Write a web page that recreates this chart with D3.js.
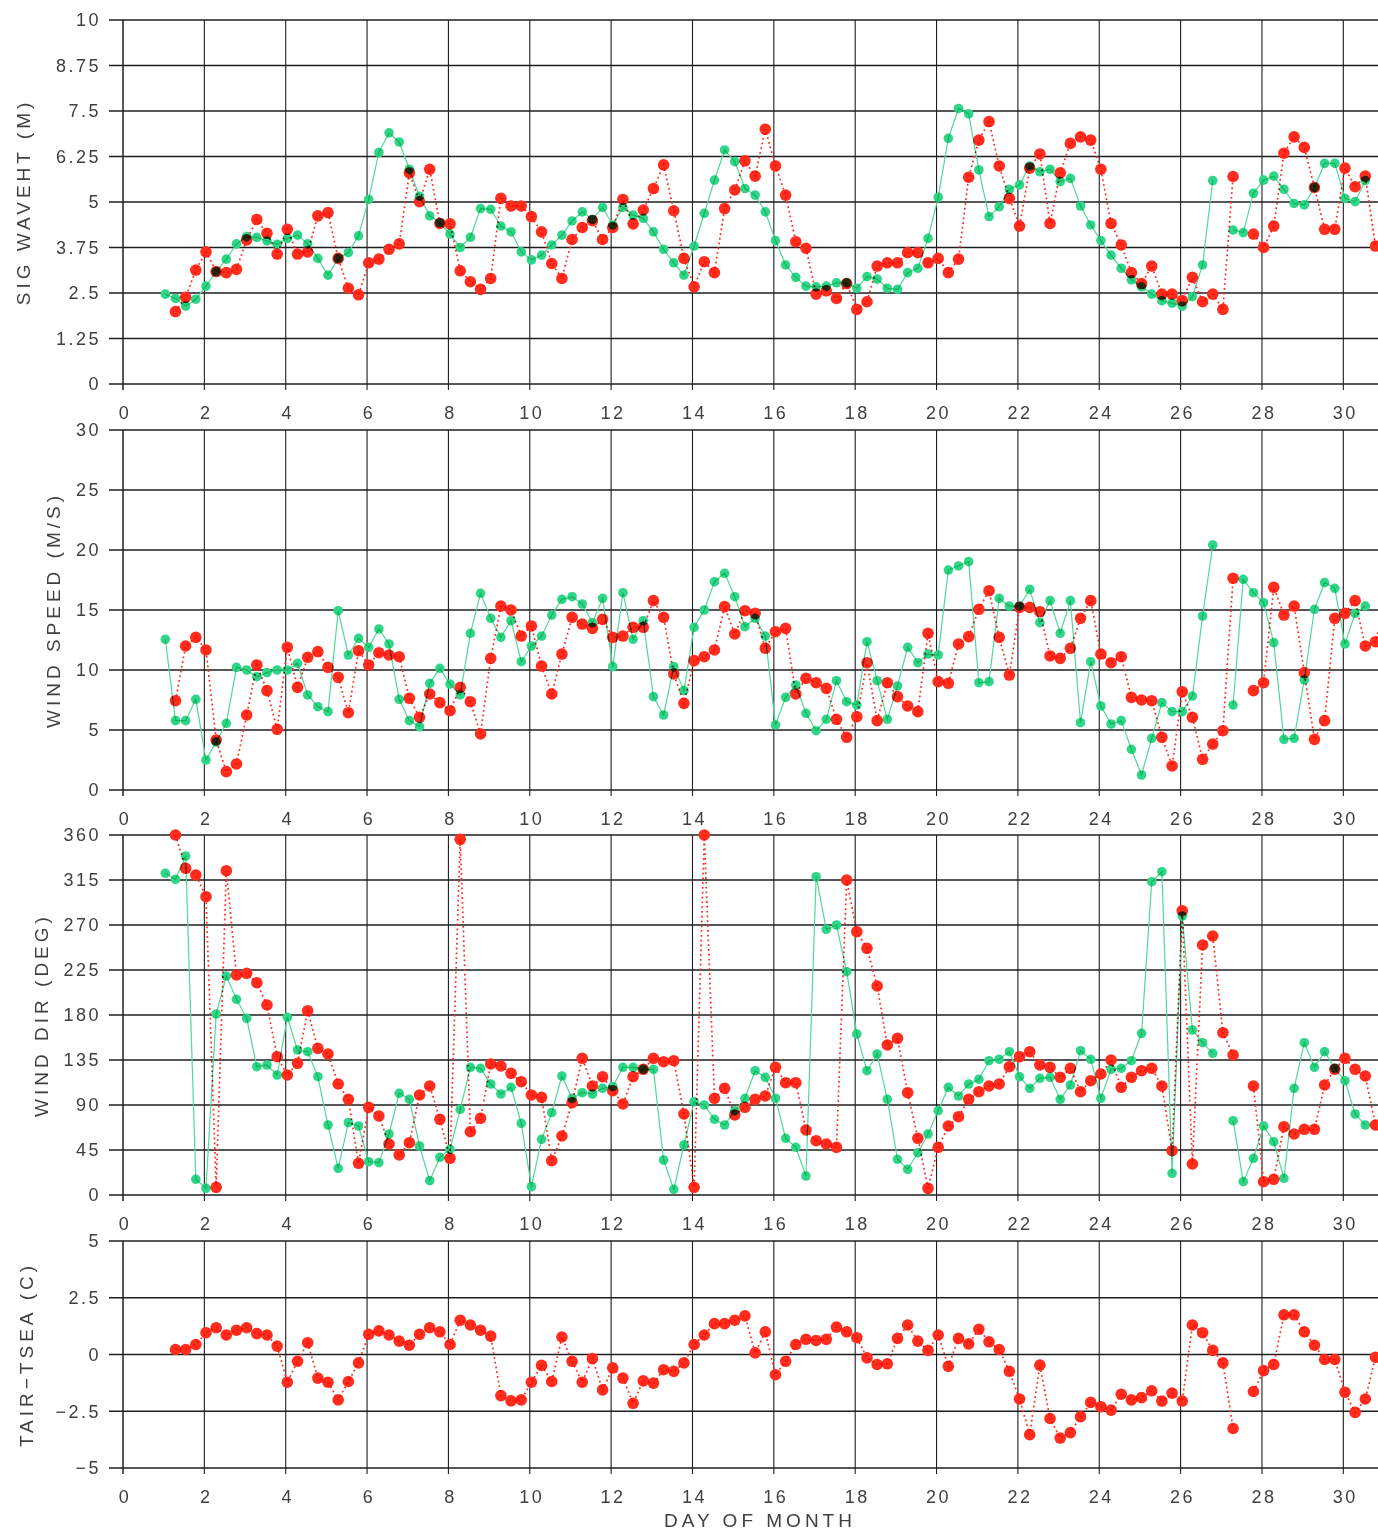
<html>
  <head>
    <title>buoy-month</title>
    <script src="https://cdn.jsdelivr.net/npm/d3@7"></script>
    <style>
      body { margin: 0; background: #ffffff; }
      text { font-family: "Liberation Sans", "DejaVu Sans", sans-serif; fill: #404040; }
    </style>
  </head>
  <body>
    <svg width="1378" height="1531" id="mainsvg" style="background-color: #ffffff;"></svg>
    <script>
        // observations every 6 hours starting at day 1; null = missing
        const T0 = 1.04;
        const STEP = 0.25;

        const waveGreen = [2.47, 2.35, 2.14, 2.33, 2.69, 3.09, 3.43, 3.85, 4.05, 4.03, 3.93, 3.84, 4.0, 4.09, 3.85, 3.45, 2.99, 3.45, 3.61, 4.07,
            5.07, 6.36, 6.9, 6.65, 5.9, 5.16, 4.62, 4.43, 4.12, 3.75, 4.03, 4.82, 4.8, 4.34, 4.18, 3.63, 3.41, 3.54, 3.82, 4.09,
            4.48, 4.73, 4.52, 4.85, 4.37, 4.85, 4.64, 4.55, 4.18, 3.7, 3.33, 2.99, 3.79, 4.69, 5.6, 6.43, 6.11, 5.37, 5.19, 4.73,
            3.94, 3.27, 2.93, 2.69, 2.67, 2.69, 2.78, 2.78, 2.63, 2.95, 2.88, 2.63, 2.6, 3.06, 3.18, 4.0, 5.13, 6.75, 7.57, 7.42,
            5.88, 4.6, 4.87, 5.35, 5.47, 5.99, 5.83, 5.9, 5.56, 5.65, 4.89, 4.37, 3.94, 3.54, 3.18, 2.86, 2.67, 2.47, 2.29, 2.22,
            2.14, 2.4, 3.27, 5.59, null, 4.23, 4.16, 5.24, 5.6, 5.71, 5.35, 4.96, 4.92, 5.4, 6.06, 6.06, 5.1, 5.01, 5.59];
        const waveRed = [null, 1.99, 2.38, 3.13, 3.63, 3.09, 3.06, 3.15, 3.96, 4.52, 4.14, 3.57, 4.25, 3.57, 3.63, 4.62, 4.71, 3.45, 2.63, 2.45,
            3.33, 3.43, 3.7, 3.85, 5.8, 5.01, 5.9, 4.41, 4.4, 3.11, 2.81, 2.6, 2.9, 5.1, 4.89, 4.89, 4.6, 4.18, 3.31, 2.9,
            3.97, 4.3, 4.49, 3.97, 4.3, 5.07, 4.4, 4.78, 5.37, 6.02, 4.76, 3.45, 2.67, 3.36, 3.06, 4.82, 5.33, 6.13, 5.71, 7.0,
            5.99, 5.19, 3.91, 3.73, 2.47, 2.56, 2.35, 2.76, 2.05, 2.26, 3.24, 3.33, 3.33, 3.61, 3.61, 3.33, 3.45, 3.06, 3.43, 5.68,
            6.7, 7.21, 5.99, 5.1, 4.34, 5.93, 6.32, 4.41, 5.8, 6.61, 6.79, 6.7, 5.9, 4.41, 3.82, 3.06, 2.76, 3.24, 2.47, 2.47,
            2.29, 2.93, 2.26, 2.47, 2.05, 5.7, null, 4.12, 3.75, 4.34, 6.34, 6.79, 6.5, 5.4, 4.25, 4.25, 5.93, 5.42, 5.71, 3.79];

        const speedGreen = [12.56, 5.78, 5.78, 7.56, 2.5, 4.0, 5.56, 10.22, 10.0, 9.44, 9.78, 10.0, 10.0, 10.56, 7.92, 6.94, 6.53, 14.94, 11.25, 12.64,
            11.89, 13.42, 12.17, 7.56, 5.78, 5.28, 8.89, 10.14, 8.83, 7.92, 13.06, 16.39, 14.31, 12.72, 14.11, 10.69, 12.0, 12.83, 14.58, 15.89,
            16.11, 15.5, 13.94, 15.97, 10.28, 16.44, 12.56, 14.11, 7.78, 6.25, 10.28, 8.28, 13.56, 15.0, 17.36, 18.06, 16.11, 13.61, 14.31, 12.83,
            5.42, 7.72, 8.75, 6.39, 4.94, 5.89, 9.11, 7.36, 7.08, 12.36, 9.11, 5.89, 8.67, 11.89, 10.61, 11.33, 11.25, 18.33, 18.67, 19.03,
            8.94, 9.03, 15.97, 15.33, 15.33, 16.72, 13.94, 15.78, 13.06, 15.78, 5.61, 10.69, 7.0, 5.5, 5.78, 3.39, 1.25, 4.31, 7.28, 6.53,
            6.53, 7.83, 14.5, 20.42, null, 7.08, 17.56, 16.44, 15.61, 12.28, 4.22, 4.31, 9.17, 15.06, 17.28, 16.81, 12.17, 14.72, 15.33];
        const speedRed = [null, 7.44, 12.0, 12.72, 11.67, 4.17, 1.53, 2.17, 6.25, 10.42, 8.28, 5.06, 11.89, 8.56, 11.06, 11.53, 10.22, 9.39, 6.44, 11.61,
            10.42, 11.44, 11.25, 11.11, 7.64, 6.06, 8.0, 7.28, 6.61, 8.56, 7.36, 4.67, 10.97, 15.33, 15.0, 12.83, 13.67, 10.33, 8.0, 11.33,
            14.39, 13.83, 13.47, 14.22, 12.72, 12.83, 13.56, 13.56, 15.78, 14.39, 9.67, 7.22, 10.78, 11.11, 11.67, 15.28, 13.0, 14.94, 14.72, 11.81,
            13.19, 13.47, 8.0, 9.31, 8.94, 8.47, 5.89, 4.39, 6.11, 10.61, 5.78, 8.94, 7.78, 7.0, 6.53, 13.06, 9.03, 8.89, 12.17, 12.78,
            15.06, 16.61, 12.72, 9.58, 15.22, 15.22, 14.86, 11.17, 10.97, 11.81, 14.31, 15.78, 11.33, 10.61, 11.11, 7.72, 7.5, 7.44, 4.39, 2.0,
            8.19, 6.06, 2.56, 3.83, 4.94, 17.64, null, 8.28, 8.94, 16.89, 14.58, 15.33, 9.78, 4.22, 5.78, 14.31, 14.72, 15.78, 12.0, 12.36, 15.33];

        const dirGreen = [321.7, 315.7, 339, 15.7, 6.7, 181, 219, 195.7, 176.7, 128.3, 130, 120, 177.7, 145, 143.3, 118.3, 70, 26.7, 72.3, 69,
            33.3, 32.3, 61, 101.7, 95.7, 49, 14.3, 37.7, 45.7, 85.7, 127.7, 126.7, 111, 101, 107.7, 71.7, 8.3, 55.7, 82.3, 119,
            96.7, 102.3, 101, 106.7, 108.3, 127.7, 127.7, 125.7, 125.7, 35, 5.7, 50, 93.3, 90, 75.7, 70, 84.3, 96.7, 124.3, 117.7,
            96.7, 56.7, 47.7, 19, 318.3, 265.7, 270, 223.3, 161, 124.3, 141, 95.7, 35.7, 25.7, 42.3, 61, 84.3, 107.7, 99, 111,
            115.7, 134.3, 135.7, 143.3, 118.3, 106.7, 116.7, 117.7, 95.7, 110, 144.3, 135.7, 96.7, 125.7, 126.7, 134.3, 161.7, 313.3, 323.3, 21.7,
            279, 165, 152.3, 141.7, null, 74.3, 13.3, 36.7, 69, 53.3, 16.7, 106.7, 152.3, 127.7, 143.3, 126.7, 114.3, 81, 70];
        const dirRed = [null, 360, 326.7, 320, 298.3, 7.7, 324.3, 220, 221.7, 212.3, 190, 138.3, 120, 131.7, 184.3, 146.7, 141, 111, 95.7, 31.7,
            87.7, 79, 51, 40, 52.3, 100, 109, 75.7, 36.7, 355.7, 63.3, 76.7, 131, 129, 121.7, 113.3, 100, 97.7, 34.3, 59,
            92.3, 136.7, 109, 118.3, 104.3, 91, 118.3, 125.7, 136.7, 133.3, 134.3, 81, 7.7, 360, 96.7, 106.7, 80, 87.7, 95.7, 99,
            127.7, 112.3, 112.3, 65, 54.3, 51, 47.7, 315, 263.3, 246.7, 209, 150, 156.7, 102.3, 56.7, 6.7, 47.7, 69, 78.3, 95.7,
            103.3, 109, 111, 128.3, 138.3, 143.3, 130, 127.7, 117.7, 126.7, 103.3, 114.3, 121, 135, 107.7, 117.7, 124.3, 126.7, 109, 44.3,
            284.3, 31, 250, 259, 162.3, 140, null, 109, 13.3, 15.7, 68.3, 61, 65.7, 65.7, 110, 125.7, 136.7, 125.7, 119, 70];

        const tairRed = [null, 0.22, 0.22, 0.44, 0.96, 1.18, 0.86, 1.07, 1.18, 0.92, 0.86, 0.37, -1.22, -0.3, 0.52, -1.04, -1.22, -2.0, -1.19, -0.37,
            0.89, 1.04, 0.86, 0.59, 0.41, 0.89, 1.18, 1.0, 0.44, 1.51, 1.3, 1.07, 0.81, -1.81, -2.04, -2.0, -1.22, -0.48, -1.19, 0.77,
            -0.3, -1.22, -0.18, -1.56, -0.59, -1.04, -2.15, -1.16, -1.26, -0.67, -0.74, -0.37, 0.44, 0.86, 1.36, 1.36, 1.51, 1.7, 0.07, 1.0,
            -0.89, -0.3, 0.44, 0.67, 0.62, 0.67, 1.21, 1.0, 0.74, -0.15, -0.44, -0.41, 0.71, 1.3, 0.59, 0.18, 0.86, -0.52, 0.71, 0.47,
            1.11, 0.56, 0.22, -0.74, -1.96, -3.53, -0.47, -2.82, -3.68, -3.44, -2.74, -2.11, -2.3, -2.45, -1.75, -2.0, -1.9, -1.6, -2.05, -1.7,
            -2.05, 1.3, 0.96, 0.18, -0.37, -3.26, null, -1.63, -0.71, -0.44, 1.75, 1.75, 1.0, 0.41, -0.22, -0.22, -1.66, -2.55, -1.96, -0.12];

        const xTicks = d3.range(0, 31, 2);
        const waveTicks = ['0', '1.25', '2.5', '3.75', '5', '6.25', '7.5', '8.75', '10'];
        const speedTicks = ['0', '5', '10', '15', '20', '25', '30'];
        const dirTicks = ['0', '45', '90', '135', '180', '225', '270', '315', '360'];
        const tairTicks = ['−5', '−2.5', '0', '2.5', '5'];

        const GREEN = '#2fd68a';
        const GREEN_LINE = '#4fd99a';
        const RED = '#ff2d1e';

        const svg = d3.select('#mainsvg');
        const left = 123;

        // x runs past day 30, the right edge is cut off by the page
        const xScale = d3.scaleLinear().domain([0, 31]).range([left, 1384]);

        const panels = [
            {title: 'SIG WAVEHT (M)', domain: [0, 10], range: [384, 20], ticks: waveTicks, titleX: 23, series: [waveGreen, waveRed]},
            {title: 'WIND SPEED (M/S)', domain: [0, 30], range: [790, 430], ticks: speedTicks, titleX: 53, series: [speedGreen, speedRed]},
            {title: 'WIND DIR (DEG)', domain: [0, 360], range: [1195, 835], ticks: dirTicks, titleX: 41, series: [dirGreen, dirRed]},
            {title: 'TAIR−TSEA (C)', domain: [-5, 5], range: [1468, 1241], ticks: tairTicks, titleX: 26, series: [null, tairRed]}
        ];

        const tickValue = s => +s.replace('−', '-');

        const renderPanel = function(p){
            const yScale = d3.scaleLinear().domain(p.domain).range(p.range);
            const g = svg.append('g');
            const bottom = p.range[0], top = p.range[1];

            // grid: horizontal lines at y ticks, vertical lines every 2 days
            g.selectAll('.hgrid').data(p.ticks).enter().append('line')
            .attr('x1', left - 14).attr('x2', 1384)
            .attr('y1', d => yScale(tickValue(d))).attr('y2', d => yScale(tickValue(d)))
            .attr('stroke', '#1e1e1e').attr('stroke-width', 1.3);
            g.selectAll('.vgrid').data(xTicks).enter().append('line')
            .attr('x1', d => xScale(d)).attr('x2', d => xScale(d))
            .attr('y1', top).attr('y2', bottom + 6)
            .attr('stroke', '#1e1e1e').attr('stroke-width', d => d === 0 ? 1.5 : 1.1);

            // tick labels
            g.selectAll('.ylab').data(p.ticks).enter().append('text')
            .attr('x', left - 22).attr('y', d => yScale(tickValue(d)))
            .attr('dy', '0.36em').attr('text-anchor', 'end')
            .attr('font-size', 18).attr('letter-spacing', 2.5)
            .text(d => d);
            g.selectAll('.xlab').data(xTicks).enter().append('text')
            .attr('x', d => xScale(d) + 2).attr('y', bottom + 35)
            .attr('text-anchor', 'middle')
            .attr('font-size', 18).attr('letter-spacing', 2.5)
            .text(d => d);

            // rotated axis title
            g.append('text')
            .attr('transform', `translate(${p.titleX}, ${(top + bottom) / 2}) rotate(-90)`)
            .attr('text-anchor', 'middle').attr('dy', '0.36em')
            .attr('font-size', 19).attr('letter-spacing', 4)
            .text(p.title);

            // series drawn with multiply so overlapping dots turn dark
            const marks = g.append('g').style('isolation', 'isolate');
            const styles = [
                {line: GREEN_LINE, dot: GREEN, r: 4.8, width: 1.2, dash: null},
                {line: RED, dot: RED, r: 5.8, width: 1.7, dash: '1.8,3'}
            ];
            p.series.forEach((vals, k) => {
                if(!vals) return;
                const st = styles[k];
                const pts = vals.map((v, i) => ({t: T0 + STEP * i, v: v}));
                const line = d3.line()
                .defined(d => d.v !== null)
                .x(d => xScale(d.t)).y(d => yScale(d.v));
                marks.append('path')
                .attr('d', line(pts))
                .attr('fill', 'none')
                .attr('stroke', st.line)
                .attr('stroke-width', st.width)
                .attr('stroke-dasharray', st.dash)
                .style('mix-blend-mode', 'multiply');
                marks.append('g').selectAll('circle')
                .data(pts.filter(d => d.v !== null)).enter().append('circle')
                .attr('cx', d => xScale(d.t)).attr('cy', d => yScale(d.v))
                .attr('r', st.r)
                .attr('fill', st.dot)
                .style('mix-blend-mode', 'multiply');
            });
        };

        panels.forEach(renderPanel);

        svg.append('text')
        .attr('x', 760).attr('y', 1527)
        .attr('text-anchor', 'middle')
        .attr('font-size', 19).attr('letter-spacing', 4)
        .text('DAY OF MONTH');
    </script>
  </body>
</html>
